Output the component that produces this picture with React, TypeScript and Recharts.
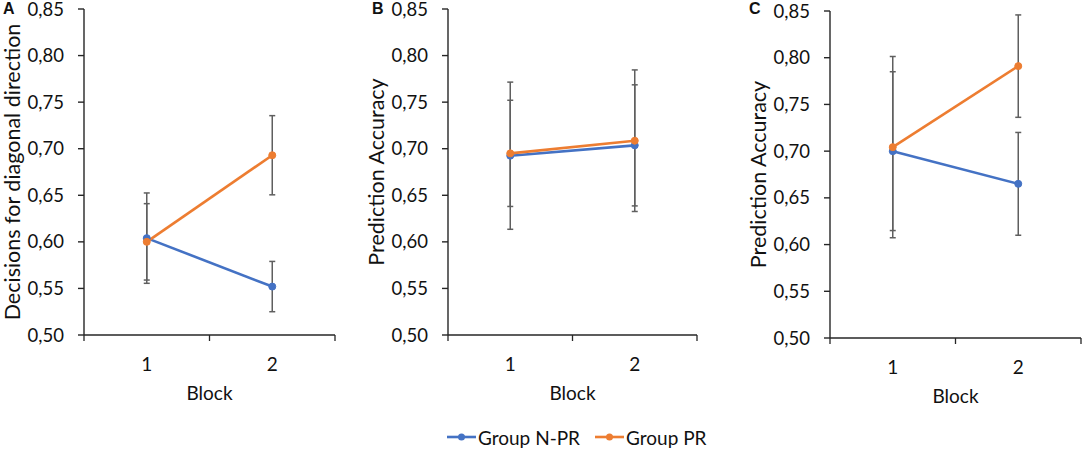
import React from 'react';
import { LineChart, Line, XAxis, YAxis, ErrorBar } from 'recharts';

const blocks = [1, 2];
const xTickValues = [0.5, 1, 1.5, 2, 2.5];
const yTickValues = [0.5, 0.55, 0.6, 0.65, 0.7, 0.75, 0.8, 0.85];

const seriesNames = ['Group N-PR', 'Group PR'];

// Panel A
const aNprMean = [0.604, 0.552];
const aNprErr = [0.0485, 0.027];
const aPrMean = [0.6, 0.693];
const aPrErr = [0.041, 0.0425];

// Panel B
const bNprMean = [0.6925, 0.7036];
const bNprErr = [0.079, 0.065];
const bPrMean = [0.695, 0.7086];
const bPrErr = [0.057, 0.076];

// Panel C
const cNprMean = [0.7, 0.665];
const cNprErr = [0.085, 0.055];
const cPrMean = [0.7043, 0.791];
const cPrErr = [0.097, 0.0548];

const BLUE = '#4472C4';
const ORANGE = '#ED7D31';
const AXIS = '#262626';
const ERR = '#5f5f5f';
const FONT = 'Lato, "Open Sans", sans-serif';

const build = (nm: number[], ne: number[], pm: number[], pe: number[]) =>
  blocks.map((b, i) => ({ block: b, npr: nm[i], nprErr: ne[i], pr: pm[i], prErr: pe[i] }));

const XTick = (props: any) => {
  const { x, y, payload } = props;
  if (Number.isInteger(payload.value)) {
    return (
      <text x={x} y={y + 28} textAnchor="middle" dominantBaseline="central" fontSize={19} fontFamily={FONT} fill="#111">
        {payload.value}
      </text>
    );
  }
  return <line x1={x} x2={x} y1={y} y2={y + 6} stroke={AXIS} strokeWidth={1.3} />;
};

const YTitle = (props: any) => {
  const { viewBox, text } = props;
  const cx = viewBox.x + viewBox.width - 72;
  const cy = viewBox.y + viewBox.height / 2;
  return (
    <text x={cx} y={cy} transform={`rotate(-90, ${cx}, ${cy})`} textAnchor="middle" dominantBaseline="central" fontSize={21.5} fontFamily={FONT} fill="#111">
      {text}
    </text>
  );
};

const XTitle = (props: any) => {
  const { viewBox } = props;
  const cx = viewBox.x + viewBox.width / 2;
  const cy = viewBox.y + 57;
  return (
    <text x={cx} y={cy} textAnchor="middle" dominantBaseline="central" fontSize={19} fontFamily={FONT} fill="#111">
      Block
    </text>
  );
};

type PanelProps = {
  data: any[];
  left: number;
  width: number;
  yAxisWidth: number;
  top: number;
  right: number;
  plotBottom: number;
  title: string;
  letter: string;
  letterLeft: number;
};

const HEIGHT = 410;

const Panel = ({ data, left, width, yAxisWidth, top, right, plotBottom, title, letter, letterLeft }: PanelProps) => (
  <div style={{ position: 'absolute', left, top: 0, width, height: HEIGHT }}>
    <LineChart width={width} height={HEIGHT} data={data} margin={{ top, right, left: 0, bottom: 5 }}>
      <XAxis
        dataKey="block"
        type="number"
        domain={[0.5, 2.5]}
        allowDataOverflow
        ticks={xTickValues}
        interval={0}
        tickSize={0}
        tickMargin={0}
        tickLine={false}
        tick={<XTick />}
        height={HEIGHT - 5 - plotBottom}
        axisLine={{ stroke: AXIS, strokeWidth: 1.4 }}
        label={<XTitle />}
      />
      <YAxis
        type="number"
        domain={[0.5, 0.85]}
        allowDataOverflow
        ticks={yTickValues}
        interval={0}
        width={yAxisWidth}
        tickSize={6}
        tickMargin={14}
        tickFormatter={(v: number) => v.toFixed(2).replace('.', ',')}
        tick={{ fontSize: 18.5, fontFamily: FONT, fill: '#111' }}
        tickLine={{ stroke: AXIS, strokeWidth: 1.4 }}
        axisLine={{ stroke: AXIS, strokeWidth: 1.4 }}
        label={<YTitle text={title} />}
      />
      <Line
        dataKey="npr"
        name={seriesNames[0]}
        stroke={BLUE}
        strokeWidth={2.6}
        dot={{ r: 3.5, fill: BLUE, stroke: BLUE, strokeWidth: 1 }}
        activeDot={false}
        isAnimationActive={false}
      >
        <ErrorBar dataKey="nprErr" direction="y" width={3} stroke={ERR} strokeWidth={1.5} />
      </Line>
      <Line
        dataKey="pr"
        name={seriesNames[1]}
        stroke={ORANGE}
        strokeWidth={2.6}
        dot={{ r: 3.5, fill: ORANGE, stroke: ORANGE, strokeWidth: 1 }}
        activeDot={false}
        isAnimationActive={false}
      >
        <ErrorBar dataKey="prErr" direction="y" width={3} stroke={ERR} strokeWidth={1.5} />
      </Line>
    </LineChart>
    <div
      style={{
        position: 'absolute',
        left: letterLeft,
        top: 0,
        fontFamily: 'Arial, "Liberation Sans", sans-serif',
        fontWeight: 'bold',
        fontSize: 16,
        lineHeight: '17px',
        color: '#111',
      }}
    >
      {letter}
    </div>
  </div>
);

const LegendItem = ({ color, label, gap }: { color: string; label: string; gap: number }) => (
  <div style={{ display: 'flex', alignItems: 'center', marginRight: gap }}>
    <svg width={29} height={12} style={{ display: 'block' }}>
      <line x1={0} x2={29} y1={6} y2={6} stroke={color} strokeWidth={2.6} />
      <circle cx={14.5} cy={6} r={3.5} fill={color} />
    </svg>
    <span style={{ fontFamily: FONT, fontSize: 19, color: '#111', marginLeft: 2, whiteSpace: 'nowrap' }}>{label}</span>
  </div>
);

export default function App() {
  return (
    <div style={{ position: 'absolute', left: 0, top: 0, width: 1084, height: 449, background: '#fff', overflow: 'hidden' }}>
      <Panel
        data={build(aNprMean, aNprErr, aPrMean, aPrErr)}
        left={0}
        width={360}
        yAxisWidth={84}
        top={9}
        right={25}
        plotBottom={335}
        title="Decisions for diagonal direction"
        letter="A"
        letterLeft={3}
      />
      <Panel
        data={build(bNprMean, bNprErr, bPrMean, bPrErr)}
        left={360}
        width={360}
        yAxisWidth={88}
        top={9}
        right={23}
        plotBottom={335}
        title="Prediction Accuracy"
        letter="B"
        letterLeft={12}
      />
      <Panel
        data={build(cNprMean, cNprErr, cPrMean, cPrErr)}
        left={710}
        width={374}
        yAxisWidth={120}
        top={11}
        right={3}
        plotBottom={338}
        title="Prediction Accuracy"
        letter="C"
        letterLeft={39}
      />
      <div
        style={{
          position: 'absolute',
          left: 447,
          top: 425,
          height: 24,
          display: 'flex',
          alignItems: 'center',
        }}
      >
        <LegendItem color={BLUE} label={seriesNames[0]} gap={15} />
        <LegendItem color={ORANGE} label={seriesNames[1]} gap={0} />
      </div>
    </div>
  );
}
